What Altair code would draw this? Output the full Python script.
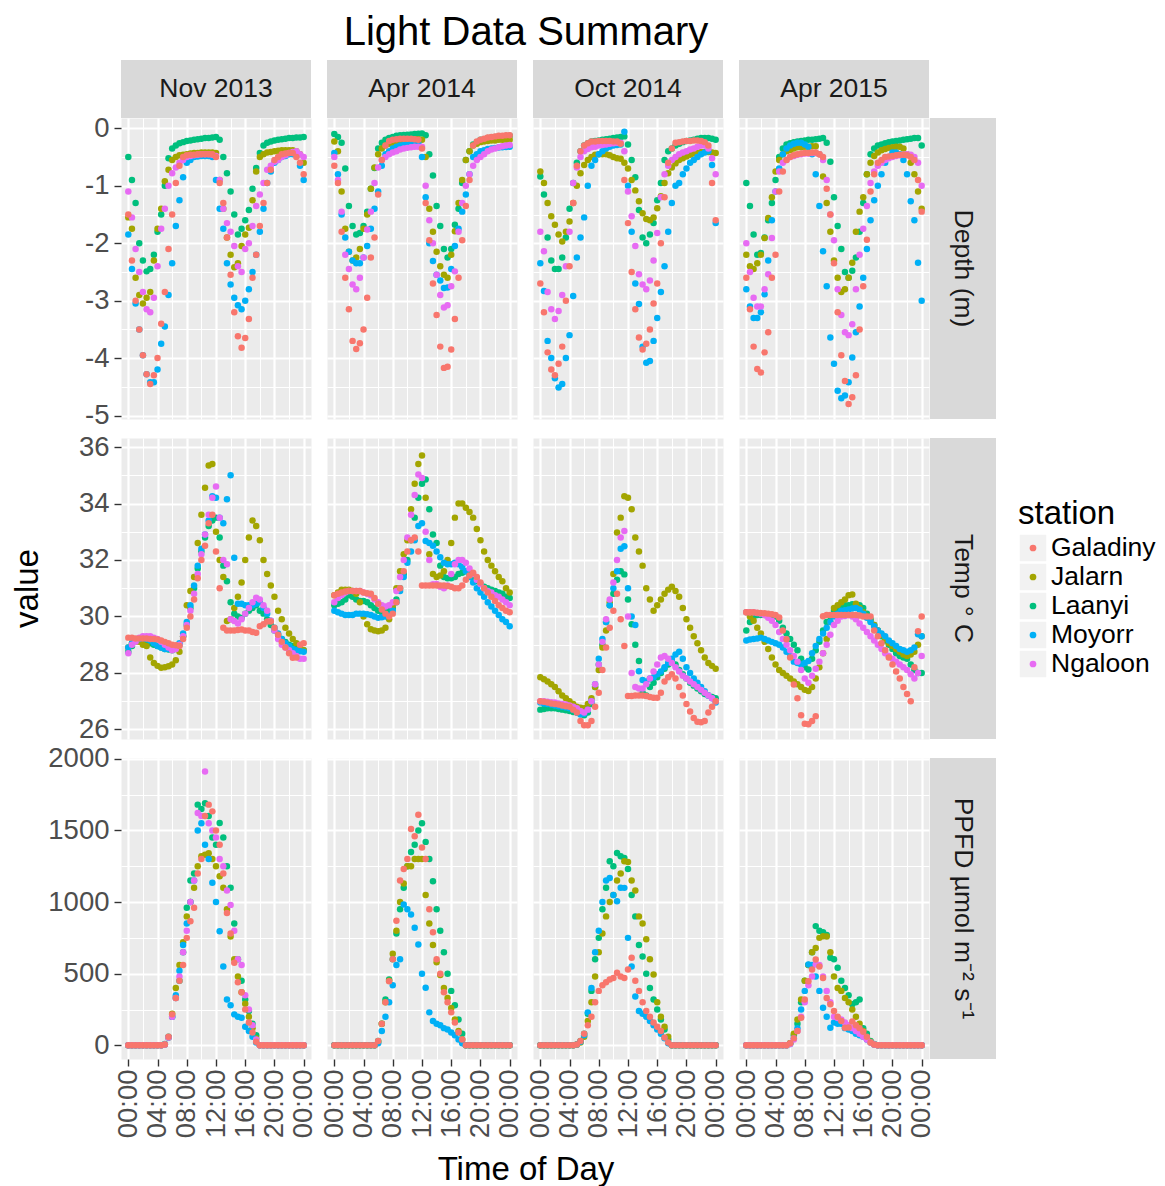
import altair as alt
import pandas as pd

FONT = "Liberation Sans"

stations = ["Galadiny", "Jalarn", "Laanyi", "Moyorr", "Ngaloon"]
station_colors = ["#F8766D", "#A3A500", "#00BF7D", "#00B0F6", "#E76BF3"]
draw_order = ["Laanyi", "Jalarn", "Moyorr", "Ngaloon", "Galadiny"]
periods = ["Nov 2013", "Apr 2014", "Oct 2014", "Apr 2015"]
variables = ["Depth (m)", "Temp \u00b0 C", "PPFD \u00b5mol m\u207b\u00b2 s\u207b\u00b9"]
hours = [0, 1, 2, 3, 4, 5, 6, 7, 8, 9, 10, 11, 12, 13, 14, 15, 16, 17, 18, 19, 20, 21, 22, 23, 24]
half_hours = [0.5, 1.5, 2.5, 3.5, 4.5, 5.5, 6.5, 7.5, 8.5, 9.5, 10.5, 11.5, 12.5, 13.5, 14.5, 15.5,
              16.5, 17.5, 18.5, 19.5, 20.5, 21.5, 22.5, 23.5]
x_ticks = [0, 2, 4, 6, 8, 10, 12, 14, 16, 18, 20, 22, 24]
depth_ticks = [-5, -4.5, -4, -3.5, -3, -2.5, -2, -1.5, -1, -0.5, 0]
temp_ticks = [26, 27, 28, 29, 30, 31, 32, 33, 34, 35, 36]
ppfd_ticks = [0, 250, 500, 750, 1000, 1250, 1500, 1750, 2000]

# ================= Depth (m): on the hour =================
dep_nov13_gal = [-1.5, -3.0, -3.95, -4.45, -4.0, -2.85, -1.5, -0.65, -0.47, -0.46, -0.45, -0.45, -0.5, -1.3, -2.55, -3.62, -3.65, -2.6, -1.7, -0.95, -0.55, -0.45, -0.43, -0.5, -0.8]
dep_nov13_jal = [-1.55, -2.6, -3.05, -2.85, -1.75, -0.92, -0.55, -0.47, -0.45, -0.43, -0.42, -0.42, -0.43, -1.4, -2.2, -2.35, -1.85, -1.25, -0.5, -0.42, -0.4, -0.38, -0.38, -0.4, -0.6]
dep_nov13_laa = [-0.5, -1.3, -2.3, -2.45, -1.8, -1.0, -0.35, -0.26, -0.22, -0.2, -0.18, -0.17, -0.15, -0.5, -1.1, -1.85, -1.6, -1.05, -0.43, -0.25, -0.21, -0.19, -0.17, -0.16, -0.15]
dep_nov13_moy = [-1.85, -3.05, -3.95, -4.42, -4.2, -3.45, -2.35, -1.25, -0.6, -0.5, -0.48, -0.48, -0.9, -1.75, -2.72, -3.08, -3.0, -2.5, -1.8, -0.95, -0.6, -0.5, -0.45, -0.47, -0.9]
dep_nov13_nga = [-1.1, -2.1, -2.85, -3.2, -2.4, -1.4, -0.78, -0.6, -0.5, -0.47, -0.45, -0.45, -0.48, -1.4, -1.8, -2.4, -2.1, -1.7, -1.15, -0.72, -0.58, -0.5, -0.43, -0.4, -0.5]

dep_apr14_gal = [-0.65, -1.8, -3.15, -3.84, -3.5, -2.25, -1.15, -0.3, -0.2, -0.18, -0.18, -0.19, -0.35, -1.95, -3.25, -4.17, -3.85, -2.6, -1.35, -0.3, -0.2, -0.16, -0.14, -0.13, -0.12]
dep_apr14_jal = [-0.23, -1.1, -2.15, -2.25, -1.75, -1.05, -0.45, -0.3, -0.25, -0.22, -0.2, -0.19, -0.2, -1.4, -2.15, -2.55, -2.2, -1.3, -0.55, -0.3, -0.24, -0.22, -0.21, -0.2, -0.2]
dep_apr14_laa = [-0.1, -0.25, -1.35, -1.85, -1.7, -1.05, -0.35, -0.2, -0.15, -0.12, -0.11, -0.1, -0.09, -0.45, -1.35, -2.1, -2.1, -1.4, -0.55, -0.28, -0.2, -0.17, -0.15, -0.14, -0.13]
dep_apr14_moy = [-0.43, -1.5, -2.15, -2.35, -2.25, -1.75, -1.1, -0.45, -0.35, -0.3, -0.28, -0.27, -0.5, -2.0, -2.55, -2.78, -2.45, -1.75, -1.15, -0.5, -0.4, -0.36, -0.34, -0.33, -0.32]
dep_apr14_nga = [-0.5, -1.45, -2.45, -2.8, -2.25, -1.45, -0.68, -0.5, -0.42, -0.37, -0.34, -0.32, -0.32, -1.6, -2.55, -3.12, -2.75, -1.8, -1.0, -0.65, -0.5, -0.4, -0.35, -0.31, -0.29]

dep_oct14_gal = [-2.7, -3.9, -4.3, -3.8, -2.4, -0.65, -0.3, -0.23, -0.22, -0.22, -0.23, -0.27, -1.65, -3.15, -3.85, -3.5, -2.7, -1.2, -0.35, -0.24, -0.22, -0.21, -0.22, -0.3, -1.6]
dep_oct14_jal = [-0.75, -1.3, -1.68, -1.97, -1.62, -1.0, -0.64, -0.5, -0.45, -0.45, -0.5, -0.53, -0.7, -1.08, -1.48, -1.6, -1.39, -0.95, -0.68, -0.55, -0.49, -0.44, -0.41, -0.41, -0.43]
dep_oct14_laa = [-0.84, -1.9, -2.45, -2.25, -1.4, -0.6, -0.3, -0.23, -0.21, -0.19, -0.17, -0.15, -0.28, -0.85, -1.9, -1.85, -1.25, -0.55, -0.35, -0.27, -0.22, -0.2, -0.17, -0.17, -0.2]
dep_oct14_moy = [-2.35, -3.7, -4.35, -4.45, -3.6, -2.25, -1.55, -0.65, -0.45, -0.35, -0.3, -0.28, -1.0, -2.7, -3.8, -4.05, -3.3, -2.4, -1.3, -0.95, -0.7, -0.55, -0.45, -0.4, -1.65]
dep_oct14_nga = [-1.8, -2.85, -3.32, -2.9, -1.8, -0.68, -0.4, -0.33, -0.3, -0.28, -0.26, -0.25, -1.1, -2.05, -2.72, -2.65, -1.82, -0.8, -0.55, -0.45, -0.4, -0.35, -0.3, -0.35, -0.8]

dep_apr15_gal = [-2.6, -3.8, -4.25, -3.55, -2.2, -0.75, -0.5, -0.45, -0.43, -0.42, -0.45, -1.05, -2.35, -3.95, -4.8, -4.3, -2.75, -1.1, -0.6, -0.5, -0.48, -0.46, -0.47, -0.55, -1.45]
dep_apr15_jal = [-2.2, -2.45, -2.2, -1.56, -0.75, -0.45, -0.38, -0.33, -0.32, -0.31, -0.45, -1.3, -2.3, -2.85, -2.6, -1.8, -1.2, -0.6, -0.42, -0.36, -0.33, -0.32, -0.45, -0.8, -1.4]
dep_apr15_laa = [-0.95, -1.85, -2.17, -1.6, -0.9, -0.35, -0.26, -0.23, -0.21, -0.2, -0.18, -0.25, -1.2, -2.1, -2.6, -2.25, -1.3, -0.45, -0.3, -0.26, -0.23, -0.21, -0.19, -0.17, -0.3]
dep_apr15_moy = [-2.8, -3.3, -3.2, -2.3, -1.1, -0.45, -0.3, -0.25, -0.28, -0.45, -1.35, -2.75, -4.1, -4.7, -4.42, -3.55, -2.6, -1.6, -1.0, -0.6, -0.42, -0.45, -0.8, -1.6, -3.0]
dep_apr15_nga = [-2.0, -2.95, -3.1, -2.54, -1.1, -0.6, -0.5, -0.46, -0.44, -0.43, -0.45, -0.9, -1.95, -3.25, -3.6, -2.8, -1.75, -0.95, -0.65, -0.55, -0.5, -0.47, -0.45, -0.5, -1.0]

# ================= Depth (m): half past the hour =================
dep_nov13_gal_h = [-2.3, -3.5, -4.28, -4.3, -3.4, -2.1, -0.95, -0.5, -0.46, -0.45, -0.45, -0.45, -0.95, -1.9, -3.2, -3.82, -3.32, -2.2, -1.3, -0.72, -0.5, -0.44, -0.43, -0.6]
dep_nov13_jal_h = [-1.75, -2.9, -2.95, -2.3, -1.4, -0.72, -0.5, -0.46, -0.44, -0.43, -0.42, -0.42, -0.9, -1.9, -2.42, -2.05, -1.73, -0.75, -0.45, -0.41, -0.39, -0.38, -0.38, -0.45]
dep_nov13_laa_h = [-0.9, -2.0, -2.49, -2.2, -1.5, -0.52, -0.3, -0.24, -0.21, -0.19, -0.17, -0.16, -0.2, -0.78, -1.5, -1.75, -1.42, -0.69, -0.3, -0.23, -0.2, -0.18, -0.17, -0.16]
dep_nov13_moy_h = [-2.45, -3.5, -4.28, -4.42, -3.75, -2.9, -1.7, -0.85, -0.55, -0.49, -0.48, -0.5, -1.4, -2.35, -2.95, -3.15, -2.8, -2.2, -1.4, -0.75, -0.55, -0.48, -0.45, -0.65]
dep_nov13_nga_h = [-1.55, -2.5, -3.15, -2.95, -1.75, -1.0, -0.68, -0.55, -0.48, -0.46, -0.45, -0.46, -0.9, -1.65, -2.05, -2.5, -2.0, -1.35, -0.95, -0.65, -0.55, -0.47, -0.41, -0.45]

dep_apr14_gal_h = [-0.95, -2.6, -3.7, -3.74, -2.95, -1.9, -0.55, -0.22, -0.19, -0.18, -0.18, -0.2, -1.3, -2.7, -3.8, -4.15, -3.32, -1.95, -0.9, -0.23, -0.18, -0.15, -0.13, -0.12]
dep_apr14_jal_h = [-0.4, -1.75, -2.3, -2.1, -1.5, -0.68, -0.35, -0.27, -0.23, -0.21, -0.2, -0.19, -0.5, -1.8, -2.4, -2.6, -1.79, -0.9, -0.4, -0.27, -0.23, -0.21, -0.2, -0.2]
dep_apr14_laa_h = [-0.15, -0.7, -1.7, -1.82, -1.45, -0.69, -0.25, -0.17, -0.13, -0.115, -0.105, -0.095, -0.12, -0.82, -1.7, -2.25, -1.68, -0.95, -0.4, -0.24, -0.19, -0.16, -0.145, -0.135]
dep_apr14_moy_h = [-0.8, -1.9, -2.3, -2.35, -2.05, -1.4, -0.65, -0.4, -0.32, -0.29, -0.275, -0.26, -1.2, -2.31, -2.65, -2.77, -2.05, -1.45, -0.8, -0.45, -0.38, -0.35, -0.335, -0.325]
dep_apr14_nga_h = [-0.9, -2.2, -2.72, -2.6, -1.76, -0.95, -0.55, -0.45, -0.4, -0.35, -0.33, -0.32, -1.0, -2.0, -2.9, -3.08, -2.49, -1.3, -0.8, -0.55, -0.45, -0.37, -0.33, -0.3]

dep_oct14_gal_h = [-3.2, -4.2, -4.1, -3.0, -1.3, -0.4, -0.26, -0.23, -0.22, -0.22, -0.23, -0.9, -2.5, -3.64, -3.75, -3.05, -2.0, -0.6, -0.25, -0.23, -0.22, -0.21, -0.24, -0.95]
dep_oct14_jal_h = [-0.95, -1.53, -1.85, -1.8, -1.3, -0.78, -0.55, -0.46, -0.45, -0.47, -0.52, -0.6, -0.9, -1.27, -1.58, -1.55, -1.18, -0.78, -0.61, -0.52, -0.46, -0.43, -0.41, -0.42]
dep_oct14_laa_h = [-1.15, -2.3, -2.45, -1.9, -0.95, -0.4, -0.26, -0.22, -0.2, -0.18, -0.16, -0.14, -0.55, -1.42, -2.0, -1.65, -0.95, -0.4, -0.3, -0.24, -0.21, -0.18, -0.17, -0.18]
dep_oct14_moy_h = [-2.83, -4.0, -4.51, -4.0, -2.92, -1.9, -1.0, -0.55, -0.4, -0.32, -0.29, -0.06, -1.8, -3.06, -4.08, -3.7, -2.85, -1.8, -1.0, -0.8, -0.6, -0.5, -0.42, -0.64]
dep_oct14_nga_h = [-2.14, -3.15, -3.18, -2.4, -0.95, -0.5, -0.36, -0.32, -0.29, -0.27, -0.25, -0.4, -1.53, -2.54, -2.8, -2.3, -1.2, -0.65, -0.5, -0.42, -0.37, -0.32, -0.3, -0.52]

dep_apr15_gal_h = [-3.15, -4.19, -3.9, -2.6, -1.1, -0.55, -0.47, -0.44, -0.43, -0.42, -0.5, -1.5, -3.2, -4.4, -4.68, -3.5, -1.94, -0.8, -0.55, -0.49, -0.47, -0.46, -0.5, -0.9]
dep_apr15_jal_h = [-2.4, -2.35, -1.91, -1.2, -0.55, -0.4, -0.35, -0.33, -0.32, -0.31, -0.84, -1.8, -2.6, -2.8, -2.34, -1.45, -0.8, -0.48, -0.38, -0.34, -0.32, -0.35, -0.6, -1.1]
dep_apr15_laa_h = [-1.35, -2.2, -1.9, -1.3, -0.5, -0.28, -0.24, -0.22, -0.2, -0.19, -0.17, -0.58, -1.7, -2.5, -2.48, -1.8, -0.8, -0.35, -0.28, -0.24, -0.22, -0.2, -0.18, -0.17]
dep_apr15_moy_h = [-3.1, -3.3, -2.89, -1.6, -0.7, -0.35, -0.27, -0.25, -0.32, -0.8, -2.14, -3.64, -4.57, -4.65, -3.99, -3.1, -2.1, -1.25, -0.8, -0.5, -0.42, -0.55, -1.27, -2.34]
dep_apr15_nga_h = [-2.5, -3.1, -2.8, -1.91, -0.75, -0.55, -0.48, -0.45, -0.44, -0.43, -0.55, -1.5, -2.8, -3.55, -3.41, -2.2, -1.35, -0.75, -0.6, -0.52, -0.48, -0.46, -0.46, -0.6]

# ================= Temperature: on the hour =================
tmp_nov13_gal = [29.25, 29.22, 29.22, 29.2, 29.18, 29.1, 29.0, 28.95, 29.6, 30.6, 32.0, 33.3, 32.3, 29.6, 29.5, 29.52, 29.5, 29.45, 29.65, 29.82, 29.6, 29.1, 28.7, 28.55, 29.05]
tmp_nov13_jal = [28.9, 29.1, 29.0, 28.55, 28.25, 28.2, 28.3, 28.75, 30.4, 31.4, 33.6, 35.35, 33.0, 31.4, 29.9, 30.7, 32.0, 33.4, 32.7, 31.5, 30.7, 29.9, 29.4, 29.05, 28.8]
tmp_nov13_laa = [28.75, 29.1, 29.15, 29.05, 28.95, 28.85, 28.8, 29.0, 29.7, 31.0, 32.3, 33.2, 33.5, 31.8, 30.5, 30.0, 30.1, 30.3, 30.2, 29.9, 29.5, 29.2, 29.0, 28.85, 28.8]
tmp_nov13_moy = [28.9, 29.15, 29.25, 29.15, 28.95, 28.85, 28.85, 29.05, 29.8, 31.1, 32.4, 33.4, 34.2, 33.3, 35.0, 30.45, 30.4, 30.4, 30.5, 30.1, 29.6, 29.2, 28.95, 28.8, 28.75]
tmp_nov13_nga = [28.7, 29.1, 29.3, 29.3, 29.2, 29.0, 28.8, 29.0, 29.7, 30.8, 32.2, 33.6, 34.6, 32.0, 29.9, 29.75, 30.1, 30.5, 30.6, 30.2, 29.5, 29.0, 28.8, 28.6, 28.5]

tmp_apr14_gal = [30.75, 30.85, 30.9, 30.9, 30.85, 30.8, 30.45, 30.1, 30.1, 31.0, 32.3, 32.8, 31.1, 31.1, 31.1, 31.1, 31.05, 31.0, 31.3, 31.55, 31.2, 30.85, 30.55, 30.3, 30.15]
tmp_apr14_jal = [30.75, 30.95, 30.95, 30.8, 30.0, 29.55, 29.48, 29.6, 30.4, 31.6, 32.7, 34.7, 35.7, 32.2, 31.4, 31.6, 32.6, 34.0, 33.85, 33.5, 32.7, 32.0, 31.6, 31.25, 30.85]
tmp_apr14_laa = [30.4, 30.5, 30.75, 30.6, 30.55, 30.4, 30.2, 30.15, 30.3, 31.0, 32.0, 33.5, 34.7, 33.8, 32.6, 31.4, 31.35, 31.5, 31.6, 31.35, 31.15, 31.0, 30.9, 30.8, 30.65]
tmp_apr14_moy = [30.2, 30.1, 30.05, 30.1, 30.1, 30.05, 29.95, 30.0, 30.2, 30.9, 31.9, 32.7, 33.3, 32.6, 32.3, 31.9, 31.85, 31.85, 31.6, 31.2, 30.85, 30.5, 30.2, 29.9, 29.65]
tmp_apr14_nga = [30.5, 30.75, 30.9, 30.9, 30.85, 30.75, 30.5, 30.35, 30.5, 31.4, 32.8, 34.3, 34.9, 32.0, 31.15, 31.0, 31.5, 32.0, 31.9, 31.5, 31.15, 30.9, 30.75, 30.6, 30.4]

tmp_oct14_gal = [27.0, 26.95, 26.9, 26.85, 26.8, 26.6, 26.15, 26.3, 27.3, 28.9, 30.2, 29.9, 27.18, 27.2, 27.2, 27.15, 27.12, 27.7, 27.95, 27.5, 26.9, 26.4, 26.25, 26.6, 27.0]
tmp_oct14_jal = [27.85, 27.7, 27.5, 27.2, 27.0, 26.8, 26.75, 27.1, 28.1, 29.5, 31.5, 33.5, 34.2, 32.8, 31.8, 30.6, 30.4, 30.8, 31.05, 30.7, 29.9, 29.3, 28.8, 28.35, 28.15]
tmp_oct14_laa = [26.7, 26.75, 26.75, 26.7, 26.65, 26.6, 26.5, 26.9, 28.3, 29.8, 30.8, 31.6, 30.6, 29.0, 27.3, 27.5, 27.85, 28.15, 28.4, 28.1, 27.8, 27.55, 27.35, 27.2, 27.1]
tmp_oct14_moy = [26.95, 26.9, 26.85, 26.8, 26.75, 26.6, 26.55, 27.0, 28.5, 29.8, 31.0, 32.4, 31.0, 29.7, 27.75, 27.8, 27.95, 28.2, 28.5, 28.75, 28.2, 27.8, 27.5, 27.2, 26.95]
tmp_oct14_nga = [27.0, 26.98, 26.95, 26.9, 26.85, 26.75, 26.6, 27.0, 28.3, 29.9, 31.2, 32.8, 30.0, 27.5, 27.45, 27.8, 28.3, 28.6, 28.35, 28.05, 27.8, 27.6, 27.4, 27.2, 27.0]

tmp_apr15_gal = [30.15, 30.15, 30.12, 30.1, 30.05, 29.5, 28.55, 27.1, 26.2, 26.3, None, 30.05, 30.05, 30.05, 30.05, 30.05, 30.0, 30.0, 29.3, 28.8, 28.3, 27.8, 27.25, 28.2, 30.0]
tmp_apr15_jal = [30.15, 29.85, 29.4, 28.85, 28.3, 28.0, 27.8, 27.6, 27.4, 27.5, 28.2, 29.2, 30.3, 30.5, 30.75, 30.45, 30.15, 29.85, 29.5, 29.2, 28.95, 28.75, 28.6, 28.75, 29.3]
tmp_apr15_laa = [29.5, 30.0, 30.05, 30.05, 30.0, 29.6, 29.2, 28.8, 28.2, 28.5, 29.1, 29.8, 30.2, 30.35, 30.4, 30.4, 30.3, 29.9, 29.5, 29.15, 28.85, 28.6, 28.5, 28.1, 28.0]
tmp_apr15_moy = [29.15, 29.2, 29.25, 29.15, 29.05, 28.9, 28.6, 28.35, 28.35, 28.7, 29.2, 29.6, 30.0, 30.2, 30.25, 30.3, 30.1, 29.8, 29.5, 29.3, 29.05, 28.85, 28.75, 28.9, 29.3]
tmp_apr15_nga = [30.15, 30.15, 30.1, 29.95, 29.7, 29.2, 28.8, 28.4, 27.8, 27.9, 28.4, 29.0, 29.7, 30.0, 30.05, 29.9, 29.6, 29.3, 29.0, 28.7, 28.5, 28.3, 28.1, 27.8, 28.6]

# ================= Temperature: half past the hour =================
tmp_nov13_gal_h = [29.25, 29.22, 29.22, 29.2, 29.15, 29.05, 28.98, 29.2, 30.0, 31.35, 32.5, 33.6, 31.0, 29.5, 29.5, 29.54, 29.5, 29.42, 29.72, 29.82, 29.35, 28.9, 28.54, 29.0]
tmp_nov13_jal_h = [29.05, 29.1, 28.95, 28.35, 28.18, 28.24, 28.45, 29.3, 30.9, 32.6, 34.56, 35.4, 32.0, 29.84, 30.3, 31.2, 32.8, 33.2, 32.0, 31.1, 30.2, 29.6, 29.2, 28.9]
tmp_nov13_laa_h = [28.95, 29.15, 29.1, 29.0, 28.9, 28.83, 28.85, 29.3, 30.3, 31.7, 32.8, 33.4, 32.8, 31.25, 30.1, 29.95, 30.2, 30.4, 30.1, 29.7, 29.35, 29.1, 28.95, 28.85]
tmp_nov13_moy_h = [29.05, 29.2, 29.2, 29.05, 28.9, 28.85, 28.9, 29.4, 30.4, 31.8, 32.9, 34.26, 33.5, 34.15, 32.08, 30.45, 30.4, 30.45, 30.3, 29.85, 29.4, 29.05, 28.85, 28.77]
tmp_nov13_nga_h = [29.0, 29.25, 29.3, 29.25, 29.1, 28.9, 28.85, 29.3, 30.2, 31.5, 32.9, 34.2, 33.5, 31.85, 29.84, 29.9, 30.3, 30.66, 30.4, 29.85, 29.2, 28.9, 28.7, 28.5]

tmp_apr14_gal_h = [30.8, 30.88, 30.9, 30.9, 30.82, 30.65, 30.25, 30.0, 30.5, 31.6, 32.7, 32.3, 31.1, 31.1, 31.1, 31.08, 31.0, 31.1, 31.45, 31.4, 31.0, 30.7, 30.4, 30.2]
tmp_apr14_jal_h = [30.85, 30.95, 30.9, 30.5, 29.72, 29.5, 29.5, 29.9, 31.0, 32.2, 33.8, 35.4, 34.2, 31.5, 31.45, 32.0, 33.5, 34.0, 33.7, 33.1, 32.3, 31.8, 31.4, 31.0]
tmp_apr14_laa_h = [30.45, 30.6, 30.7, 30.55, 30.5, 30.3, 30.15, 30.2, 30.6, 31.5, 32.7, 34.2, 34.85, 32.9, 31.8, 31.35, 31.4, 31.55, 31.5, 31.25, 31.05, 30.95, 30.85, 30.7]
tmp_apr14_moy_h = [30.15, 30.05, 30.05, 30.1, 30.08, 30.0, 29.97, 30.05, 30.5, 31.4, 32.3, 33.2, 32.67, 32.5, 32.1, 31.85, 31.9, 31.75, 31.4, 31.0, 30.7, 30.35, 30.05, 29.8]
tmp_apr14_nga_h = [30.65, 30.85, 30.9, 30.9, 30.8, 30.6, 30.4, 30.4, 30.9, 32.0, 33.6, 35.03, 33.0, 31.14, 31.05, 31.1, 31.85, 32.0, 31.7, 31.3, 31.0, 30.85, 30.7, 30.5]

tmp_oct14_gal_h = [26.98, 26.92, 26.88, 26.82, 26.7, 26.3, 26.15, 26.8, 28.1, 29.6, 30.8, 28.95, 27.18, 27.2, 27.18, 27.12, 27.3, 27.85, 27.8, 27.2, 26.63, 26.27, 26.3, 26.8]
tmp_oct14_jal_h = [27.78, 27.6, 27.35, 27.1, 26.9, 26.77, 26.9, 27.5, 28.9, 30.5, 32.97, 34.26, 33.8, 32.3, 31.0, 30.2, 30.6, 30.95, 30.9, 30.3, 29.6, 29.05, 28.55, 28.25]
tmp_oct14_laa_h = [26.72, 26.75, 26.72, 26.68, 26.62, 26.55, 26.6, 27.5, 29.0, 30.4, 31.3, 31.49, 29.72, 28.42, 27.2, 27.65, 28.0, 28.3, 28.3, 27.95, 27.65, 27.45, 27.25, 27.15]
tmp_oct14_moy_h = [26.92, 26.88, 26.82, 26.78, 26.7, 26.53, 26.7, 27.6, 29.2, 30.4, 31.6, 32.49, 30.0, 28.06, 27.7, 27.85, 28.05, 28.35, 28.65, 28.5, 28.0, 27.65, 27.35, 27.1]
tmp_oct14_nga_h = [27.0, 26.96, 26.92, 26.88, 26.8, 26.65, 26.7, 27.6, 29.1, 30.6, 32.0, 33.03, 28.0, 27.45, 27.6, 28.05, 28.55, 28.5, 28.2, 27.9, 27.7, 27.5, 27.3, 27.1]

tmp_apr15_gal_h = [30.15, 30.13, 30.11, 30.08, 29.96, 29.19, 27.59, 26.5, 26.18, 26.47, 30.01, 30.05, 30.05, 30.05, 30.05, 30.03, 30.0, 29.5, 29.05, 28.55, 28.05, 27.5, 27.0, 29.48]
tmp_apr15_jal_h = [30.0, 29.6, 29.1, 28.55, 28.1, 27.9, 27.7, 27.5, 27.36, 27.8, 28.7, 29.8, 30.4, 30.6, 30.78, 30.3, 30.0, 29.7, 29.35, 29.05, 28.85, 28.65, 28.65, 29.0]
tmp_apr15_laa_h = [29.8, 30.05, 30.05, 30.05, 29.85, 29.4, 29.0, 28.5, 28.12, 28.8, 29.5, 30.0, 30.3, 30.4, 30.43, 30.4, 30.1, 29.7, 29.3, 29.0, 28.7, 28.55, 28.3, 28.0]
tmp_apr15_moy_h = [29.18, 29.22, 29.2, 29.1, 29.0, 28.75, 28.4, 28.3, 28.42, 28.95, 29.4, 29.8, 30.1, 30.22, 30.28, 30.25, 29.95, 29.65, 29.4, 29.15, 28.95, 28.8, 28.8, 29.37]
tmp_apr15_nga_h = [30.15, 30.12, 30.05, 29.85, 29.45, 29.0, 28.6, 28.1, 27.65, 28.15, 28.7, 29.35, 29.85, 30.02, 30.0, 29.75, 29.45, 29.15, 28.85, 28.6, 28.4, 28.2, 27.95, 28.0]

# ================= PPFD: on the hour =================
par_nov13_gal = [0, 0, 0, 0, 0, 5, 216, 450, 750, 960, 1300, 1680, 1500, 1200, 780, 440, 250, 90, 0, 0, 0, 0, 0, 0, 0]
par_nov13_jal = [0, 0, 0, 0, 0, 5, 220, 560, 900, 1100, 1320, 1340, 1250, 1100, 760, 480, 290, 120, 0, 0, 0, 0, 0, 0, 0]
par_nov13_laa = [0, 0, 0, 0, 0, 10, 200, 450, 960, 1200, 1650, 1600, 1400, 1450, 1100, 600, 320, 150, 0, 0, 0, 0, 0, 0, 0]
par_nov13_moy = [0, 0, 0, 0, 0, 5, 200, 520, 850, 1150, 1550, 1300, 1000, 550, 280, 200, 130, 60, 0, 0, 0, 0, 0, 0, 0]
par_nov13_nga = [0, 0, 0, 0, 0, 5, 200, 480, 800, 1150, 1600, 1550, 1450, 1250, 980, 600, 350, 140, 0, 0, 0, 0, 0, 0, 0]

par_apr14_gal = [0, 0, 0, 0, 0, 0, 30, 300, 600, 1150, 1300, 1460, 1380, 950, 600, 370, 230, 90, 0, 0, 0, 0, 0, 0, 0]
par_apr14_jal = [0, 0, 0, 0, 0, 0, 25, 300, 640, 1000, 1250, 1300, 1300, 850, 580, 400, 260, 100, 0, 0, 0, 0, 0, 0, 0]
par_apr14_laa = [0, 0, 0, 0, 0, 0, 30, 320, 600, 950, 1250, 1400, 1550, 1300, 950, 650, 380, 180, 0, 0, 0, 0, 0, 0, 0]
par_apr14_moy = [0, 0, 0, 0, 0, 0, 15, 200, 420, 600, 950, 820, 500, 230, 150, 120, 90, 40, 0, 0, 0, 0, 0, 0, 0]
par_apr14_nga = None

par_oct14_gal = [0, 0, 0, 0, 0, 5, 80, 200, 380, 440, 470, 480, 530, 450, 300, 200, 130, 55, 0, 0, 0, 0, 0, 0, 0]
par_oct14_jal = [0, 0, 0, 0, 0, 5, 60, 300, 650, 900, 1050, 1200, 1280, 1080, 850, 600, 300, 130, 0, 0, 0, 0, 0, 0, 0]
par_oct14_laa = [0, 0, 0, 0, 0, 5, 80, 380, 750, 1100, 1250, 1320, 1230, 900, 620, 400, 250, 110, 0, 0, 0, 0, 0, 0, 0]
par_oct14_moy = [0, 0, 0, 0, 0, 5, 70, 400, 800, 1150, 1050, 1100, 750, 340, 220, 170, 110, 50, 0, 0, 0, 0, 0, 0, 0]
par_oct14_nga = None

par_apr15_gal = [0, 0, 0, 0, 0, 0, 15, 100, 320, 530, 550, 330, 240, 170, 125, 140, 95, 20, 0, 0, 0, 0, 0, 0, 0]
par_apr15_jal = [0, 0, 0, 0, 0, 0, 15, 180, 450, 650, 750, 760, 480, 380, 300, 200, 100, 25, 0, 0, 0, 0, 0, 0, 0]
par_apr15_laa = [0, 0, 0, 0, 0, 0, 15, 150, 450, 650, 800, 770, 600, 450, 350, 300, 120, 30, 0, 0, 0, 0, 0, 0, 0]
par_apr15_moy = [0, 0, 0, 0, 0, 0, 10, 120, 380, 560, 380, 200, 160, 150, 110, 80, 60, 20, 0, 0, 0, 0, 0, 0, 0]
par_apr15_nga = [0, 0, 0, 0, 0, 0, 10, 100, 300, 480, 560, 380, 200, 180, 140, 100, 60, 20, 0, 0, 0, 0, 0, 0, 0]

# ================= PPFD: half past the hour =================
par_nov13_gal_h = [0, 0, 0, 0, 0, 60, 330, 560, 866, 1200, 1600, 1633, 1400, 924, 576, 370, 160, 25, 0, 0, 0, 0, 0, 0]
par_nov13_jal_h = [0, 0, 0, 0, 0, 55, 400, 720, 1000, 1250, 1330, 1300, 1180, 950, 600, 370, 200, 50, 0, 0, 0, 0, 0, 0]
par_nov13_laa_h = [0, 0, 0, 0, 0, 60, 330, 650, 1150, 1680, 1690, 1450, 1552, 1250, 850, 450, 240, 70, 0, 0, 0, 0, 0, 0]
par_nov13_moy_h = [0, 0, 0, 0, 0, 55, 350, 700, 1000, 1500, 1400, 1134, 797, 320, 216, 193, 100, 20, 0, 0, 0, 0, 0, 0]
par_nov13_nga_h = [0, 0, 0, 0, 0, 55, 330, 650, 1000, 1621, 1911, 1500, 1300, 1080, 800, 560, 250, 40, 0, 0, 0, 0, 0, 0]

par_apr14_gal_h = [0, 0, 0, 0, 0, 0, 150, 448, 870, 1230, 1510, 1610, 1300, 790, 500, 300, 160, 40, 0, 0, 0, 0, 0, 0]
par_apr14_jal_h = [0, 0, 0, 0, 0, 0, 150, 450, 800, 1130, 1250, 1300, 1050, 700, 490, 330, 180, 40, 0, 0, 0, 0, 0, 0]
par_apr14_laa_h = [0, 0, 0, 0, 0, 0, 150, 460, 780, 1100, 1350, 1500, 1420, 1145, 800, 500, 280, 80, 0, 0, 0, 0, 0, 0]
par_apr14_moy_h = [0, 0, 0, 0, 0, 0, 100, 300, 560, 983, 913, 704, 402, 170, 140, 110, 70, 15, 0, 0, 0, 0, 0, 0]
par_apr14_nga_h = None

par_oct14_gal_h = [0, 0, 0, 0, 0, 30, 140, 300, 420, 460, 506, 470, 611, 380, 240, 160, 100, 20, 0, 0, 0, 0, 0, 0]
par_oct14_jal_h = [0, 0, 0, 0, 0, 20, 170, 480, 780, 1000, 1150, 1285, 1150, 900, 740, 495, 200, 60, 0, 0, 0, 0, 0, 0]
par_oct14_laa_h = [0, 0, 0, 0, 0, 30, 220, 600, 950, 1285, 1343, 1308, 1050, 700, 500, 320, 180, 40, 0, 0, 0, 0, 0, 0]
par_oct14_moy_h = [0, 0, 0, 0, 0, 25, 230, 650, 1000, 1168, 1006, 1099, 550, 239, 200, 140, 80, 15, 0, 0, 0, 0, 0, 0]
par_oct14_nga_h = None

par_apr15_gal_h = [0, 0, 0, 0, 0, 0, 50, 193, 448, 599, 470, 286, 200, 123, 167, 120, 60, 5, 0, 0, 0, 0, 0, 0]
par_apr15_jal_h = [0, 0, 0, 0, 0, 0, 80, 320, 560, 680, 762, 650, 400, 330, 250, 150, 50, 5, 0, 0, 0, 0, 0, 0]
par_apr15_laa_h = [0, 0, 0, 0, 0, 0, 70, 300, 560, 832, 790, 611, 541, 400, 286, 320, 80, 10, 0, 0, 0, 0, 0, 0]
par_apr15_moy_h = [0, 0, 0, 0, 0, 0, 50, 250, 564, 480, 262, 123, 150, 120, 100, 70, 40, 5, 0, 0, 0, 0, 0, 0]
par_apr15_nga_h = [0, 0, 0, 0, 0, 0, 40, 200, 420, 564, 480, 300, 190, 160, 120, 80, 40, 5, 0, 0, 0, 0, 0, 0]

series = {
    (0, 0): [dep_nov13_gal, dep_nov13_jal, dep_nov13_laa, dep_nov13_moy, dep_nov13_nga],
    (0, 1): [dep_apr14_gal, dep_apr14_jal, dep_apr14_laa, dep_apr14_moy, dep_apr14_nga],
    (0, 2): [dep_oct14_gal, dep_oct14_jal, dep_oct14_laa, dep_oct14_moy, dep_oct14_nga],
    (0, 3): [dep_apr15_gal, dep_apr15_jal, dep_apr15_laa, dep_apr15_moy, dep_apr15_nga],
    (1, 0): [tmp_nov13_gal, tmp_nov13_jal, tmp_nov13_laa, tmp_nov13_moy, tmp_nov13_nga],
    (1, 1): [tmp_apr14_gal, tmp_apr14_jal, tmp_apr14_laa, tmp_apr14_moy, tmp_apr14_nga],
    (1, 2): [tmp_oct14_gal, tmp_oct14_jal, tmp_oct14_laa, tmp_oct14_moy, tmp_oct14_nga],
    (1, 3): [tmp_apr15_gal, tmp_apr15_jal, tmp_apr15_laa, tmp_apr15_moy, tmp_apr15_nga],
    (2, 0): [par_nov13_gal, par_nov13_jal, par_nov13_laa, par_nov13_moy, par_nov13_nga],
    (2, 1): [par_apr14_gal, par_apr14_jal, par_apr14_laa, par_apr14_moy, par_apr14_nga],
    (2, 2): [par_oct14_gal, par_oct14_jal, par_oct14_laa, par_oct14_moy, par_oct14_nga],
    (2, 3): [par_apr15_gal, par_apr15_jal, par_apr15_laa, par_apr15_moy, par_apr15_nga],
}
series_half = {
    (0, 0): [dep_nov13_gal_h, dep_nov13_jal_h, dep_nov13_laa_h, dep_nov13_moy_h, dep_nov13_nga_h],
    (0, 1): [dep_apr14_gal_h, dep_apr14_jal_h, dep_apr14_laa_h, dep_apr14_moy_h, dep_apr14_nga_h],
    (0, 2): [dep_oct14_gal_h, dep_oct14_jal_h, dep_oct14_laa_h, dep_oct14_moy_h, dep_oct14_nga_h],
    (0, 3): [dep_apr15_gal_h, dep_apr15_jal_h, dep_apr15_laa_h, dep_apr15_moy_h, dep_apr15_nga_h],
    (1, 0): [tmp_nov13_gal_h, tmp_nov13_jal_h, tmp_nov13_laa_h, tmp_nov13_moy_h, tmp_nov13_nga_h],
    (1, 1): [tmp_apr14_gal_h, tmp_apr14_jal_h, tmp_apr14_laa_h, tmp_apr14_moy_h, tmp_apr14_nga_h],
    (1, 2): [tmp_oct14_gal_h, tmp_oct14_jal_h, tmp_oct14_laa_h, tmp_oct14_moy_h, tmp_oct14_nga_h],
    (1, 3): [tmp_apr15_gal_h, tmp_apr15_jal_h, tmp_apr15_laa_h, tmp_apr15_moy_h, tmp_apr15_nga_h],
    (2, 0): [par_nov13_gal_h, par_nov13_jal_h, par_nov13_laa_h, par_nov13_moy_h, par_nov13_nga_h],
    (2, 1): [par_apr14_gal_h, par_apr14_jal_h, par_apr14_laa_h, par_apr14_moy_h, par_apr14_nga_h],
    (2, 2): [par_oct14_gal_h, par_oct14_jal_h, par_oct14_laa_h, par_oct14_moy_h, par_oct14_nga_h],
    (2, 3): [par_apr15_gal_h, par_apr15_jal_h, par_apr15_laa_h, par_apr15_moy_h, par_apr15_nga_h],
}

rows = []
for table, times in ((series, hours), (series_half, half_hours)):
    for (vi, pi), lists in table.items():
        for st, vals in zip(stations, lists):
            if vals is None:
                continue
            for h, v in zip(times, vals):
                if v is None:
                    continue
                rows.append({"var": vi, "per": pi, "station": st, "hour": h,
                             "value": v, "rank": draw_order.index(st)})
df = pd.DataFrame(rows).sort_values(["rank", "hour"]).reset_index(drop=True)

# ---------------- layout constants ----------------
W, H = 190, 301
HS, VS = 16, 19
STRIP = 58
TXT = "#1A1A1A"
TICKFONT = 27.5
y_domains = [[-5.06, 0.18], [25.66, 36.32], [-95.5, 2005.5]]
y_values = [depth_ticks, temp_ticks, ppfd_ticks]
y_major = ["datum.value % 1 === 0", "datum.value % 2 === 0", "datum.value % 500 === 0"]
x_major = "datum.value % 4 === 0"

color_scale = alt.Scale(domain=stations, range=station_colors)


def grid_width(test):
    return {"condition": {"test": test, "value": 2.2}, "value": 1.0}


def tick_color(test):
    return {"condition": {"test": test, "value": "#333333"}, "value": "transparent"}


def one(text):
    return pd.DataFrame({"t": [text]})


def text_layer(text, x, y, size, color="black", angle=0, align="center"):
    kw = dict(fontSize=size, color=color, font=FONT, align=align, baseline="middle")
    if angle:
        kw["angle"] = angle
    return alt.Chart(one(text)).mark_text(**kw).encode(x=alt.value(x), y=alt.value(y), text="t:N")


def legend_layers():
    out = [text_layer("station", 279, 76, 33, align="left")]
    for i, (st, col) in enumerate(zip(stations, station_colors)):
        yy = 110 + 29 * i
        out.append(alt.Chart(one(st)).mark_square(size=784, color="#F2F2F2", stroke="white",
                                                  strokeWidth=1.5, opacity=1).encode(
            x=alt.value(294), y=alt.value(yy)))
        out.append(alt.Chart(one(st)).mark_circle(size=45, color=col, opacity=1).encode(
            x=alt.value(294), y=alt.value(yy)))
        out.append(text_layer(st, 312, yy, 26.5, align="left"))
    return out


def make_panel(vi, pi):
    d = df[(df["var"] == vi) & (df["per"] == pi)]
    if pi == 0:
        yaxis = alt.Axis(values=y_values[vi], title=None, domain=False, grid=True,
                         gridColor="white", gridWidth=grid_width(y_major[vi]),
                         ticks=True, tickSize=7, tickWidth=1.4, tickColor=tick_color(y_major[vi]),
                         labelExpr=f"{y_major[vi]} ? '' + datum.value : ''",
                         labelFontSize=TICKFONT, labelColor="#4D4D4D", labelPadding=5,
                         labelOverlap=False, labelFlush=False, labelFont=FONT)
    else:
        yaxis = alt.Axis(values=y_values[vi], title=None, domain=False, grid=True,
                         gridColor="white", gridWidth=grid_width(y_major[vi]),
                         ticks=False, labels=False)
    if vi == 2:
        xaxis = alt.Axis(values=x_ticks, title=None, domain=False, grid=True,
                         gridColor="white", gridWidth=grid_width(x_major),
                         ticks=True, tickSize=7, tickWidth=1.4, tickColor=tick_color(x_major),
                         labelExpr=f"{x_major} ? ((datum.value % 24 < 10 ? '0' : '') + (datum.value % 24) + ':00') : ''",
                         labelAngle=270, labelAlign="right", labelBaseline="middle",
                         labelFontSize=TICKFONT, labelColor="#4D4D4D", labelPadding=3,
                         labelOverlap=False, labelFlush=False, labelFont=FONT)
    else:
        xaxis = alt.Axis(values=x_ticks, title=None, domain=False, grid=True,
                         gridColor="white", gridWidth=grid_width(x_major),
                         ticks=False, labels=False)

    pts = alt.Chart(d).mark_circle(size=42, opacity=1).encode(
        x=alt.X("hour:Q", scale=alt.Scale(domain=[-1.0, 25.0], nice=False, zero=False), axis=xaxis),
        y=alt.Y("value:Q", scale=alt.Scale(domain=y_domains[vi], nice=False, zero=False), axis=yaxis),
        color=alt.Color("station:N", scale=color_scale, legend=None),
        order=alt.Order("rank:Q"),
    )
    layers = [pts]

    if vi == 0:
        layers.append(alt.Chart(one(periods[pi])).mark_rect(color="#D9D9D9").encode(
            x=alt.value(0), x2=alt.value(W), y=alt.value(-STRIP), y2=alt.value(0)))
        layers.append(text_layer(periods[pi], W / 2, -STRIP / 2, 26.5, color=TXT))
        if pi == 0:
            layers.append(text_layer("Light Data Summary", 405, -85, 40))
    if pi == 3:
        layers.append(alt.Chart(one(variables[vi])).mark_rect(color="#D9D9D9").encode(
            x=alt.value(W + 1), x2=alt.value(W + 67), y=alt.value(0), y2=alt.value(H)))
        layers.append(text_layer(variables[vi], W + 34, H / 2, 26.5, color=TXT, angle=90))
    if vi == 1 and pi == 0:
        layers.append(text_layer("value", -93, H / 2, 33, angle=270))
    if vi == 2 and pi == 0:
        layers.append(text_layer("Time of Day", 405, 412, 33))
    if vi == 1 and pi == 3:
        layers.extend(legend_layers())
    return alt.layer(*layers).properties(width=W, height=H)


panels = [make_panel(vi, pi) for vi in range(3) for pi in range(4)]

chart = alt.concat(*panels, columns=4, spacing={"row": VS, "column": HS}, bounds="flush").properties(
    padding={"left": 3, "top": 4, "right": 0, "bottom": 5}
).configure(font=FONT).configure_view(fill="#EBEBEB", stroke="transparent")

chart.save("out.html", embed_options={"renderer": "svg", "actions": False})
